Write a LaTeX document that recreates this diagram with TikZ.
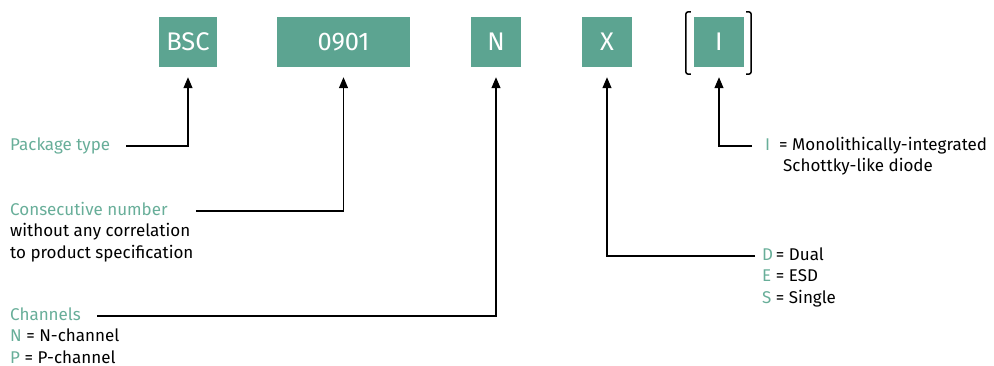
\documentclass[tikz,border=0pt]{standalone}
\usepackage{fontspec}
\setmainfont{Fira Sans}
\usetikzlibrary{arrows.meta,positioning}
\definecolor{boxgreen}{RGB}{92,164,145}
\definecolor{textgreen}{RGB}{104,174,153}
\newcommand\keyc[1]{\textcolor{textgreen}{#1}}
\tikzset{
 box/.style={fill=boxgreen,text=white,minimum height=50pt,inner sep=0pt,font=\fontsize{25.5}{28}\selectfont},
 lbl/.style={inner sep=0pt,text height=15pt,text depth=6pt,font=\fontsize{17}{21}\selectfont},
 conn/.style={line width=1.2pt,-{Triangle[width=9pt,length=11pt]},shorten >=10pt},
 brk/.style={line width=1.5pt,rounded corners=2.5pt}
}
\begin{document}
\begin{tikzpicture}[x=1pt,y=1pt]
\useasboundingbox (0,0) rectangle (994,365);
\foreach \n/\t/\x/\w in {bsc/BSC/188/58,num/0901/343.5/133,chan/N/496/50,kind/X/607/50,opt/I/719/50}
 { \node[box,minimum width=\w pt] (\n) at (\x,323) {\t}; }
% optional part in brackets
\draw[brk] ([xshift=-3pt,yshift=5pt]opt.north west) -| ([xshift=-8pt,yshift=-7pt]opt.south west) -- ++(5,0);
\draw[brk] ([xshift=2pt,yshift=5pt]opt.north east) -| ([xshift=7pt,yshift=-7pt]opt.south east) -- ++(-5,0);
% left side
\node[lbl,anchor=west,text=textgreen] (pkg) at (10,219) {Package type};
\node[lbl,anchor=west,text=textgreen] (cons) at (10,154) {Consecutive number};
\node[lbl,below=0pt of cons.south west,anchor=north west] (cons2) {without any correlation};
\node[lbl,below=0pt of cons2.south west,anchor=north west] (cons3) {to product specification};
\node[lbl,anchor=west,text=textgreen] (chn) at (10,49) {Channels};
\node[lbl,below=0pt of chn.south west,anchor=north west] (chn2) {\keyc{N} = N-channel};
\node[lbl,below=0pt of chn2.south west,anchor=north west] (chn3) {\keyc{P} = P-channel};
% right side
\node[lbl,anchor=west] (mono) at (765,219) {\keyc{I}\ \ = Monolithically-integrated};
\node[lbl,anchor=north west] (mono2) at ([xshift=18pt]mono.south west) {Schottky-like diode};
\node[lbl,anchor=west] (dual) at (762,109) {\keyc{D}\,= Dual};
\node[lbl,below=0pt of dual.south west,anchor=north west] (esd) {\keyc{E} = ESD};
\node[lbl,below=0pt of esd.south west,anchor=north west] (sgl) {\keyc{S} = Single};
% connectors
\draw[conn] ([xshift=16pt]pkg.east) -| (bsc.south);
\draw[conn] ([xshift=28pt]cons.east) -| (num.south);
\draw[conn] ([xshift=16pt]chn.east) -| (chan.south);
\draw[conn] ([xshift=-7pt]dual.west) -| (kind.south);
\draw[conn] ([xshift=-13pt]mono.west) -| (opt.south);
\end{tikzpicture}
\end{document}
